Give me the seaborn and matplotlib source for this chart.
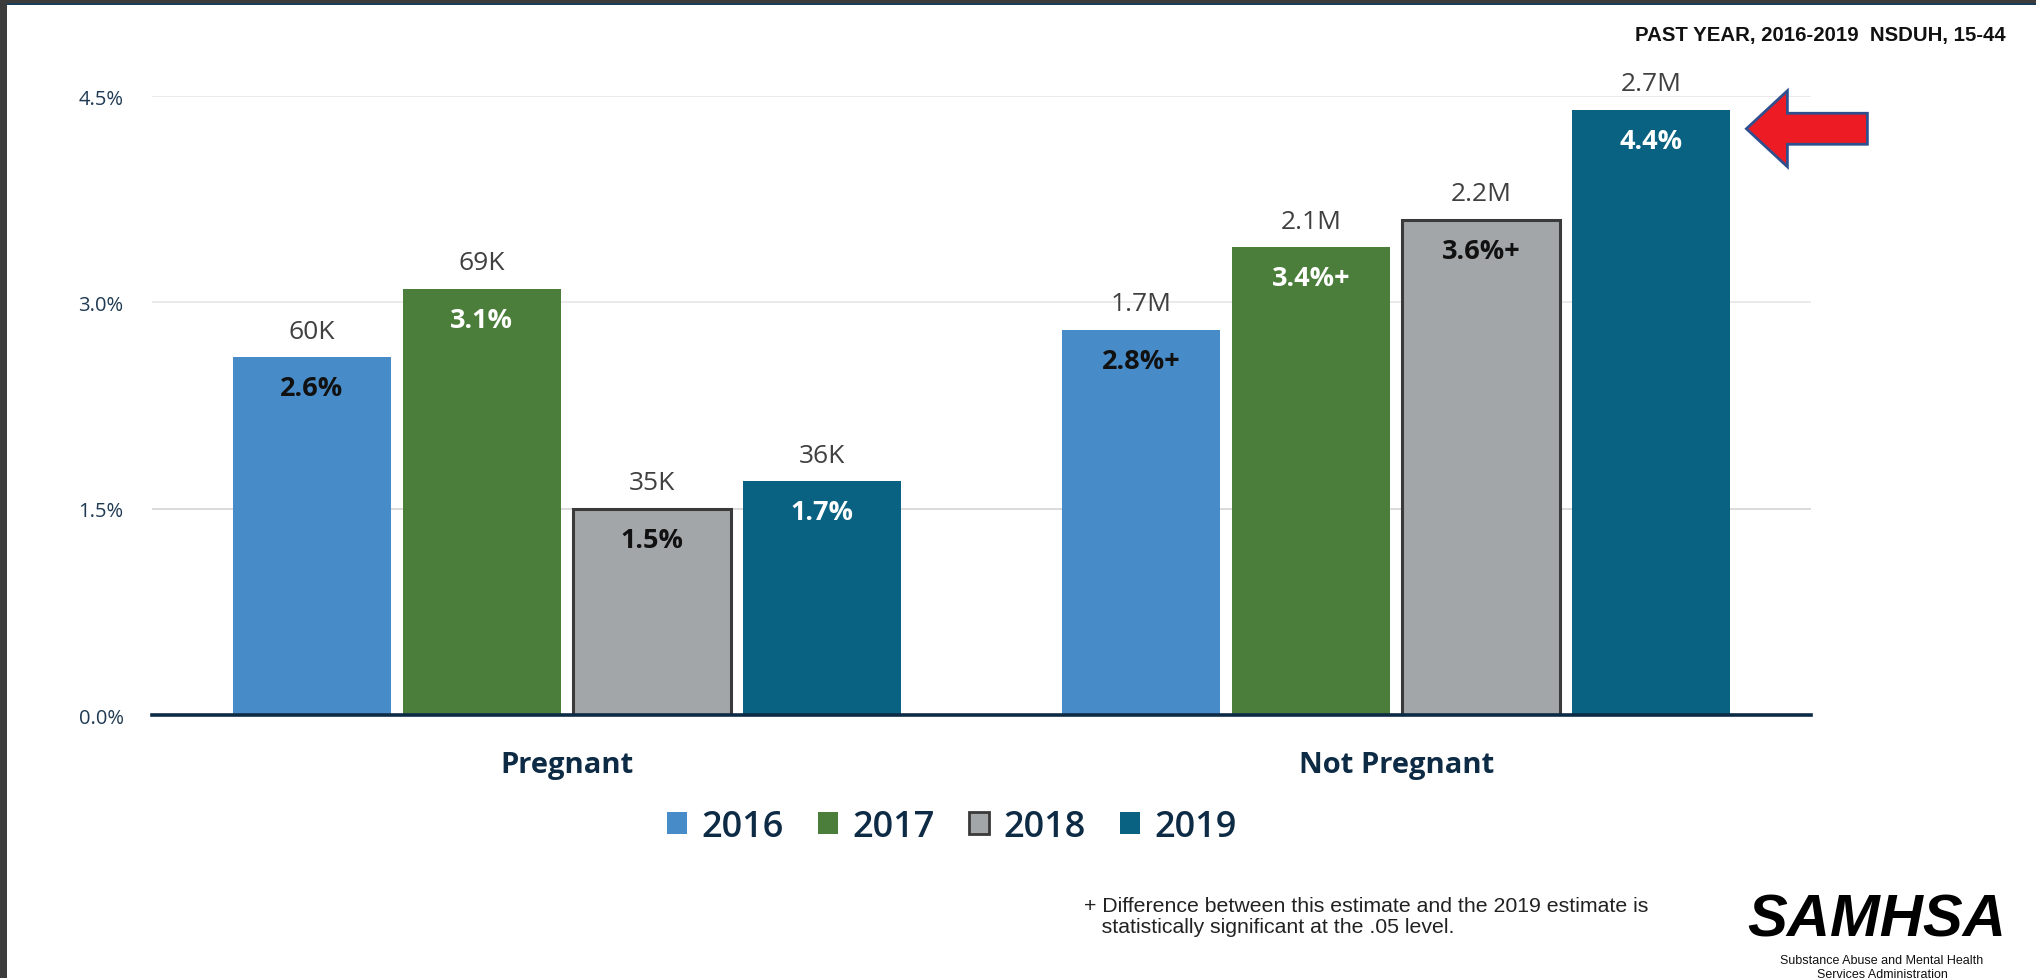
import matplotlib
matplotlib.use("Agg")
import matplotlib.pyplot as plt
import matplotlib.patches as mpatches
import seaborn as sns
import pandas as pd

# ---- data -------------------------------------------------------------
groups = ["Pregnant", "Not Pregnant"]
years = ["2016", "2017", "2018", "2019"]
pregnant_pct = [2.6, 3.1, 1.5, 1.7]
not_pregnant_pct = [2.8, 3.4, 3.6, 4.4]
pregnant_counts = ["60K", "69K", "35K", "36K"]
not_pregnant_counts = ["1.7M", "2.1M", "2.2M", "2.7M"]
pregnant_sig = [False, False, False, False]
not_pregnant_sig = [True, True, True, False]
y_ticks = [0.0, 1.5, 3.0, 4.5]

colors = {"2016": "#478CC8", "2017": "#4B7E3A", "2018": "#A3A6A9", "2019": "#0A6282"}
inner_text = {"2016": "#111111", "2017": "white", "2018": "#111111", "2019": "white"}
NAVY = "#0D2B45"

rows = []
for g, pcts, cnts, sig in [("Pregnant", pregnant_pct, pregnant_counts, pregnant_sig),
                           ("Not Pregnant", not_pregnant_pct, not_pregnant_counts, not_pregnant_sig)]:
    for y, p, c, s in zip(years, pcts, cnts, sig):
        rows.append({"group": g, "year": y, "pct": p, "count": c, "sig": s})
df = pd.DataFrame(rows)

# ---- figure -----------------------------------------------------------
sns.set_theme(style="white")
plt.rcParams["font.family"] = ["Open Sans", "DejaVu Sans"]

fig = plt.figure(figsize=(20.36, 9.79), dpi=100)
fig.patch.set_facecolor("white")
ax = fig.add_axes([152 / 2036, 1 - 716 / 979, (1811 - 152) / 2036, (716 - 97) / 979])

sns.barplot(data=df, x="group", y="pct", hue="year", order=groups, hue_order=years,
            palette=colors, width=0.82, gap=0.07, saturation=1, ax=ax,
            legend=False, errorbar=None, linewidth=0)

ax.set_xlim(-0.5, 1.5)
ax.set_ylim(0, 4.5)
ax.set_yticks(y_ticks)
ax.set_yticklabels([f"{t:.1f}%" for t in y_ticks])
ax.set_xlabel("")
ax.set_ylabel("")

for sp in ["top", "right", "left"]:
    ax.spines[sp].set_visible(False)
ax.spines["bottom"].set_color(NAVY)
ax.spines["bottom"].set_linewidth(2.6)
ax.spines["bottom"].set_zorder(5)

for t in y_ticks[1:]:
    ax.axhline(t, color="#D4D4D4" if t == 1.5 else "#E6E6E6", lw=1.2, zorder=0)

ax.tick_params(axis="y", length=0, pad=20.5, labelsize=14.5, labelcolor="#1F3A52")
ax.tick_params(axis="x", length=0, pad=25.5, labelsize=21, labelcolor=NAVY)
for lbl in ax.get_xticklabels():
    lbl.set_fontweight("bold")

# bar labels
for year, cont in zip(years, ax.containers):
    sub = df[df["year"] == year].set_index("group").loc[groups]
    for bar, (g, r) in zip(cont.patches, sub.iterrows()):
        cx = bar.get_x() + bar.get_width() / 2
        h = bar.get_height()
        if year == "2018":
            bar.set_edgecolor("#3A3A3A")
            bar.set_linewidth(2.2)
        ax.annotate(r["count"], (cx, h), xytext=(0, 26), textcoords="offset pixels",
                    ha="center", va="center", fontsize=19, color="#404040",
                    annotation_clip=False)
        txt = f"{r['pct']:.1f}%" + ("+" if r["sig"] else "")
        ax.annotate(txt, (cx, h), xytext=(0, -31), textcoords="offset pixels",
                    ha="center", va="center", fontsize=19.5, fontweight="bold",
                    color=inner_text[year])

# red call-out arrow beside the tallest bar
last = ax.containers[-1].patches[1]
tip = ax.transData.transform((last.get_x() + last.get_width(), last.get_height()))
tx, ty = tip[0] + 16, tip[1] - 19
arrow = mpatches.FancyArrow(tx + 121, ty, -121, 0, width=31, head_width=76,
                            head_length=41, length_includes_head=True,
                            facecolor="#ED1C24", edgecolor="#2F4F8F", linewidth=2,
                            transform=None, clip_on=False)
fig.add_artist(arrow)

# legend
handles = [mpatches.Patch(facecolor=colors[y],
                          edgecolor="#3A3A3A" if y == "2018" else colors[y],
                          linewidth=2 if y == "2018" else 0, label=y) for y in years]
leg = fig.legend(handles=handles, loc="center", bbox_to_anchor=(952 / 2036, 1 - 828 / 979),
                 ncol=4, frameon=False, handlelength=0.55, handleheight=0.55,
                 handletextpad=0.4, columnspacing=0.95,
                 prop={"size": 26, "weight": "semibold"})
for t in leg.get_texts():
    t.set_color(NAVY)

# header
fig.text(2006 / 2036, 1 - 36 / 979, "PAST YEAR, 2016-2019  NSDUH, 15-44", ha="right",
         va="center", fontsize=14.7, fontweight="bold", family=["Liberation Sans", "DejaVu Sans"],
         color="#111111")

# footnote
fig.text(1084 / 2036, 1 - 917 / 979,
         "+ Difference between this estimate and the 2019 estimate is\n"
         "   statistically significant at the .05 level.",
         ha="left", va="center", fontsize=15.3, linespacing=1.1,
         family=["Liberation Sans", "DejaVu Sans"], color="#222222")

# agency mark
fig.text(1877 / 2036, 1 - 921 / 979, "SAMHSA", ha="center", va="center", fontsize=43,
         fontweight="bold", fontstyle="italic",
         family=["Liberation Sans", "DejaVu Sans"], color="#000000")
fig.text(1882 / 2036, 1 - 961 / 979, "Substance Abuse and Mental Health", ha="center",
         va="center", fontsize=9, family=["Liberation Sans", "DejaVu Sans"],
         color="#111111")
fig.text(1882 / 2036, 1 - 975 / 979, "Services Administration", ha="center",
         va="center", fontsize=9, family=["Liberation Sans", "DejaVu Sans"],
         color="#111111")

# dark frame on the left and top edges
fig.add_artist(mpatches.Rectangle((0, 0), 7 / 2036, 1, transform=fig.transFigure,
                                  facecolor="#3C3C3C", edgecolor="none"))
fig.add_artist(mpatches.Rectangle((0, 1 - 4 / 979), 1, 4 / 979, transform=fig.transFigure,
                                  facecolor="#3C3C3C", edgecolor="none"))
fig.add_artist(mpatches.Rectangle((7 / 2036, 1 - 6 / 979), 1, 2 / 979, transform=fig.transFigure,
                                  facecolor="#1B3D57", edgecolor="none"))

fig.savefig("out.png", dpi=100, facecolor="white")
